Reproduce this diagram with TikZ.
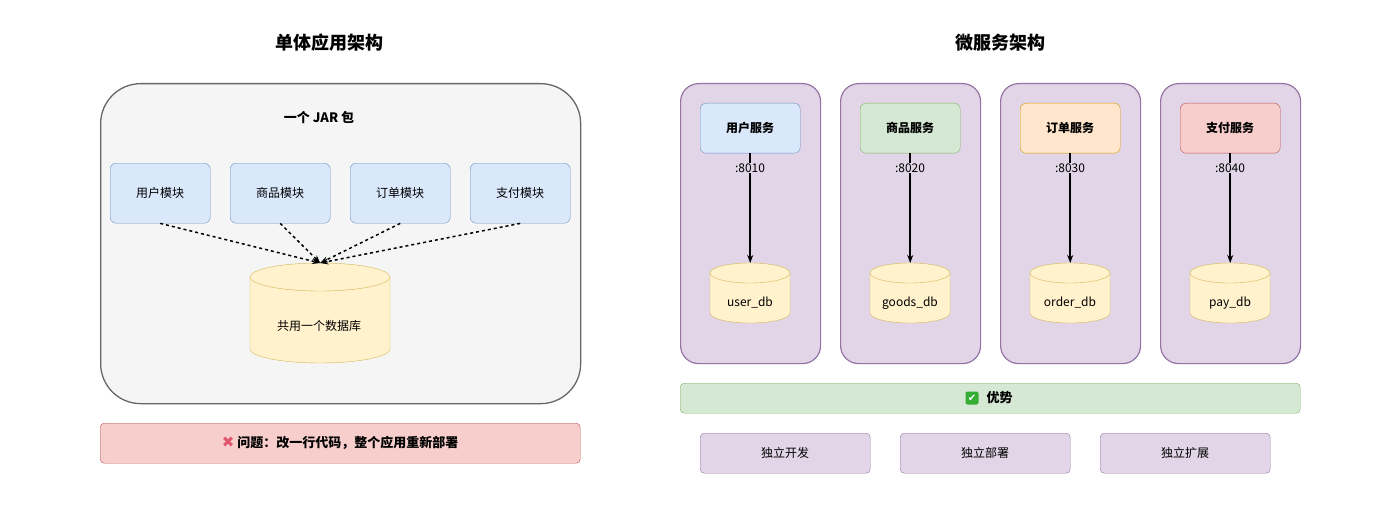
\documentclass[tikz,border=0pt]{standalone}
\usepackage{fontspec}
\setmainfont{Noto Sans CJK SC}
\newfontfamily\sym{DejaVu Sans}
\usetikzlibrary{arrows.meta}
\definecolor{grayF}{HTML}{F5F5F5}\definecolor{grayS}{HTML}{666666}
\definecolor{blueF}{HTML}{DAE8FC}\definecolor{blueS}{HTML}{6C8EBF}
\definecolor{greenF}{HTML}{D5E8D4}\definecolor{greenS}{HTML}{82B366}
\definecolor{orF}{HTML}{FFE6CC}\definecolor{orS}{HTML}{D79B00}
\definecolor{redF}{HTML}{F8CECC}\definecolor{redS}{HTML}{B85450}
\definecolor{purF}{HTML}{E1D5E7}\definecolor{purS}{HTML}{9673A6}
\definecolor{yelF}{HTML}{FFF2CC}\definecolor{yelS}{HTML}{D6B656}
\newcommand\dbcyl[5]{% x y w h ry
  \path[fill=yelF,draw=yelS] (#1,#2+#5) -- (#1,#2+#4-#5)
    arc[start angle=180,end angle=0,x radius=#3/2,y radius=#5] -- (#1+#3,#2+#5)
    arc[start angle=0,end angle=-180,x radius=#3/2,y radius=#5] -- cycle;
  \draw[yelS] (#1,#2+#5) arc[start angle=180,end angle=0,x radius=#3/2,y radius=#5];}
\begin{document}
\begin{tikzpicture}[x=1pt,y=-1pt,
  box/.style={draw,rounded corners=6pt,minimum width=100pt,minimum height=60pt,anchor=north west,font=\fontsize{12}{14}\selectfont},
  svc/.style={draw,rounded corners=6pt,minimum width=100pt,minimum height=50pt,anchor=north west,font=\bfseries\fontsize{12}{14}\selectfont},
  col/.style={draw=purS,fill=purF,rounded corners=18pt,line width=1.2pt,minimum width=140pt,minimum height=280pt,anchor=north west},
  adv/.style={draw=purS,fill=purF,rounded corners=4pt,minimum width=170pt,minimum height=40pt,anchor=north west,font=\fontsize{12}{14}\selectfont},
  lbl/.style={font=\fontsize{12}{14}\selectfont},
  title/.style={font=\bfseries\fontsize{18}{21}\selectfont},
  darr/.style={-{Stealth[length=8pt]},dashed,line width=1.5pt},
  sarr/.style={-{Stealth[length=8pt]},line width=1.5pt}]
\useasboundingbox (0,0) rectangle (1400,532);
% left
\node[title] (t1) at (329,43) {单体应用架构};
\node[draw=grayS,fill=grayF,rounded corners=40pt,line width=1.3pt,minimum width=480pt,minimum height=320pt,anchor=north west] (jar) at (100,83) {};
\node[font=\bfseries\fontsize{13}{15}\selectfont] (jl) at (319,118) {一个 JAR 包};
\foreach \n/\t [count=\i from 0] in {m1/用户模块,m2/商品模块,m3/订单模块,m4/支付模块}
  \node[box,fill=blueF,draw=blueS] (\n) at (110+120*\i,163) {\t};
\dbcyl{250}{263}{140}{100}{14}
\node[minimum width=140pt,minimum height=100pt,anchor=north west,inner sep=0] (db) at (250,263) {};
\node[lbl] (dbl) at (319,326) {共用一个数据库};
\foreach \n in {m1,m2,m3,m4} \draw[darr] (\n.south) -- (db.north);
\node[draw=redS,fill=redF,rounded corners=4pt,minimum width=480pt,minimum height=40pt,anchor=north west,font=\bfseries\fontsize{13}{15}\selectfont] (prob) at (100,423) {{\sym\fontsize{15}{15}\selectfont\color[HTML]{E0566E}✖}\ 问题：改一行代码，整个应用重新部署};
% right
\node[title] (t2) at (1000,43) {微服务架构};
\foreach \c/\t/\p/\d/\f/\s [count=\i from 0] in {
  a/用户服务/8010/user\_db/blueF/blueS,
  b/商品服务/8020/goods\_db/greenF/greenS,
  c/订单服务/8030/order\_db/orF/orS,
  d/支付服务/8040/pay\_db/redF/redS}{
  \node[col] (c\c) at (680+160*\i,83) {};
  \node[svc,fill=\f,draw=\s] (s\c) at (700+160*\i,103) {\t};
  \dbcyl{710+160*\i}{263}{80}{60}{10}
  \node[minimum width=80pt,minimum height=60pt,anchor=north west,inner sep=0] (d\c) at (710+160*\i,263) {};
  \node[lbl] (dl\c) at (750+160*\i,303) {\d};
  \draw[sarr] (s\c.south) -- (d\c.north);
  \node[lbl,fill=purF,inner sep=1pt] (p\c) at (750+160*\i,168) {:\p};
}
\node[draw=greenS,fill=greenF,rounded corners=4pt,minimum width=620pt,minimum height=30pt,anchor=north west] (advbar) at (680,383) {};
\node[fill=green!60!black!80,rounded corners=2pt,minimum size=13pt,inner sep=0pt,text=white,font=\sym\fontsize{10}{10}\selectfont] (chk) at (972,398) {✔};
\node[font=\bfseries\fontsize{13}{15}\selectfont,anchor=west] (advl) at (983,398) {优势};
\node[adv] (a1) at (700,433) {独立开发};
\node[adv] (a2) at (900,433) {独立部署};
\node[adv] (a3) at (1100,433) {独立扩展};
\end{tikzpicture}
\end{document}
